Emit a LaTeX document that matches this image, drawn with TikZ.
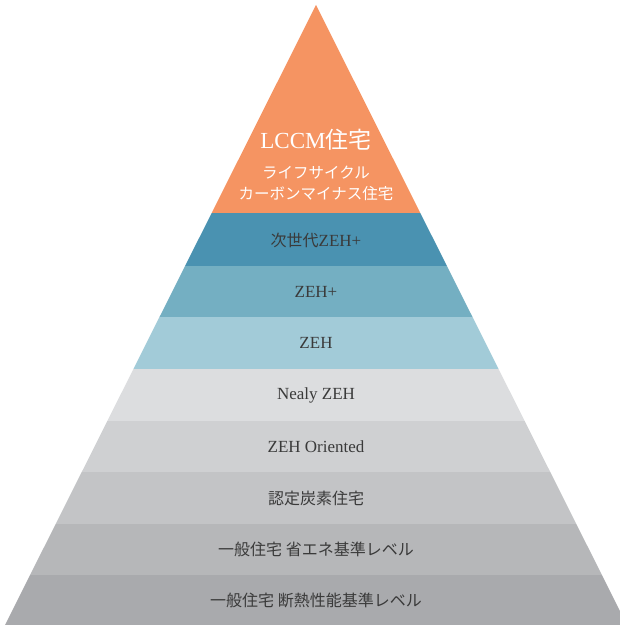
\documentclass[tikz,border=0pt]{standalone}
\usepackage{fontspec}
\setmainfont{Liberation Serif}
\newfontfamily\cjk{Noto Sans CJK JP}
\definecolor{corange}{HTML}{F59462}
\definecolor{cblueA}{HTML}{4A92B1}
\definecolor{cblueB}{HTML}{74AFC2}
\definecolor{cblueC}{HTML}{A2CBD8}
\definecolor{cgrayA}{HTML}{DCDDDF}
\definecolor{cgrayB}{HTML}{CFD0D2}
\definecolor{cgrayC}{HTML}{C3C4C6}
\definecolor{cgrayD}{HTML}{B6B7B9}
\definecolor{cgrayE}{HTML}{A9AAAD}
\definecolor{ctext}{HTML}{3A3A3A}
\begin{document}
\begin{tikzpicture}[x=1pt,y=1pt,
  bandlabel/.style={text=ctext,inner sep=0pt,font=\fontsize{17}{20}\selectfont},
  toplabel/.style={text=white,inner sep=0pt}]
\useasboundingbox (0,0) rectangle (620,625);
\begin{scope}
\clip (316,620) -- (5,0) -- (627,0) -- cycle;
\fill[corange] (0,412) rectangle (640,625);
\fill[cblueA] (0,359) rectangle (640,412);
\fill[cblueB] (0,308) rectangle (640,359);
\fill[cblueC] (0,256) rectangle (640,308);
\fill[cgrayA] (0,204) rectangle (640,256);
\fill[cgrayB] (0,153) rectangle (640,204);
\fill[cgrayC] (0,101) rectangle (640,153);
\fill[cgrayD] (0,50) rectangle (640,101);
\fill[cgrayE] (0,0) rectangle (640,50);
\end{scope}
\node[toplabel,font=\fontsize{23}{26}\selectfont] (lccm) at (316,485) {LCCM{\cjk 住宅}};
\node[toplabel,font=\fontsize{15.5}{18}\selectfont\cjk] (lc1) at (316,452) {ライフサイクル};
\node[toplabel,font=\fontsize{15.5}{18}\selectfont\cjk] (lc2) at (316,431) {カーボンマイナス住宅};
\node[bandlabel] (b2) at (316,385) {{\cjk\fontsize{16}{20}\selectfont 次世代}ZEH+};
\node[bandlabel] (b3) at (316,333.5) {ZEH+};
\node[bandlabel] (b4) at (316,282) {ZEH};
\node[bandlabel] (b5) at (316,230) {Nealy ZEH};
\node[bandlabel] (b6) at (316,178.5) {ZEH Oriented};
\node[bandlabel,font=\fontsize{16}{20}\selectfont\cjk] (b7) at (316,127) {認定炭素住宅};
\node[bandlabel,font=\fontsize{16}{20}\selectfont\cjk] (b8) at (316,75.5) {一般住宅 省エネ基準レベル};
\node[bandlabel,font=\fontsize{16}{20}\selectfont\cjk] (b9) at (316,25) {一般住宅 断熱性能基準レベル};
\end{tikzpicture}
\end{document}
